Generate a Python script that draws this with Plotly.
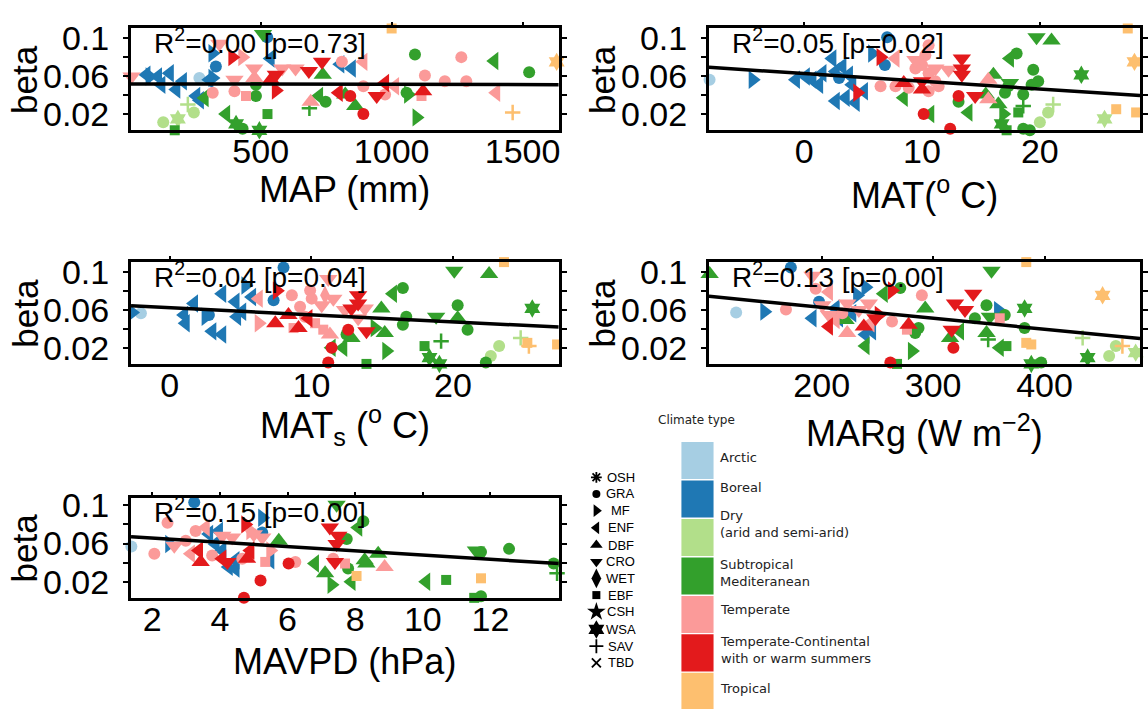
import plotly.graph_objects as go

W, H = 1148, 709

# ---- climate colours and vegetation-type symbols ----
CLIMATES = ["Arctic", "Boreal", "Dry<br>(arid and semi-arid)", "Subtropical<br>Mediteranean",
            "Temperate", "Temperate-Continental<br>with or warm summers", "Tropical"]
CLIM_CODE = ["A", "B", "D", "S", "T", "C", "R"]
CLIM_COLOR = ["#A6CEE3", "#1F78B4", "#B2DF8A", "#33A02C", "#FB9A99", "#E31A1C", "#FDBF6F"]

PFTS = ["OSH", "GRA", "MF", "ENF", "DBF", "CRO", "WET", "EBF", "CSH", "WSA", "SAV", "TBD"]
PFT_SYMBOL = ["asterisk-open", "circle", "triangle-right", "triangle-left", "triangle-up",
              "triangle-down", "diamond-tall", "square", "star", "hexagram",
              "cross-thin-open", "x-thin-open"]
PFT_SIZE = [10, 12, 16, 16, 16, 16, 14, 10, 15, 14, 11, 10]

# ---- site values per predictor: (x, beta, climate, PFT) ----
map_pts = [
    (1000, 0.1102, "R", "EBF"), (509, 0.1045, "S", "CRO"), (525, 0.101, "B", "GRA"),
    (342, 0.094, "T", "CRO"), (316, 0.084, "B", "MF"), (392, 0.080, "C", "MF"),
    (430, 0.080, "T", "MF"), (538, 0.0786, "B", "ENF"), (329, 0.070, "B", "GRA"),
    (475, 0.068, "T", "CRO"), (582, 0.068, "T", "CRO"), (633, 0.068, "T", "CRO"),
    (684, 0.0655, "C", "CRO"), (734, 0.075, "C", "CRO"), (737, 0.0614, "S", "DBF"),
    (810, 0.075, "T", "GRA"), (804, 0.0724, "B", "ENF"), (848, 0.068, "B", "ENF"),
    (892, 0.075, "T", "ENF"), (1089, 0.0828, "S", "GRA"), (1266, 0.080, "T", "GRA"),
    (1392, 0.0758, "S", "ENF"), (1630, 0.075, "R", "WSA"), (1525, 0.064, "S", "GRA"),
    (1127, 0.0607, "T", "GRA"), (1203, 0.0545, "T", "GRA"), (1285, 0.0545, "T", "GRA"),
    (1399, 0.0424, "T", "ENF"), (1462, 0.0217, "R", "SAV"), (1095, 0.0165, "S", "MF"),
    (1120, 0.044, "C", "DBF"), (1057, 0.0424, "S", "GRA"), (1063, 0.0407, "S", "MF"),
    (1114, 0.039, "T", "EBF"), (1013, 0.0493, "T", "ENF"), (975, 0.0527, "C", "ENF"),
    (943, 0.039, "C", "CRO"), (975, 0.0407, "T", "GRA"), (892, 0.0493, "T", "GRA"),
    (892, 0.020, "C", "GRA"), (861, 0.0286, "S", "DBF"), (823, 0.0407, "S", "DBF"),
    (842, 0.039, "C", "GRA"), (798, 0.0424, "C", "ENF"), (723, 0.039, "S", "ENF"),
    (748, 0.033, "S", "GRA"), (691, 0.033, "T", "DBF"), (686, 0.026, "S", "SAV"),
    (558, 0.0448, "C", "MF"), (539, 0.0562, "C", "DBF"), (558, 0.0614, "C", "CRO"),
    (482, 0.051, "S", "GRA"), (482, 0.039, "S", "GRA"), (526, 0.020, "S", "EBF"),
    (476, 0.058, "T", "DBF"), (400, 0.0562, "T", "CRO"), (400, 0.0441, "T", "GRA"),
    (444, 0.039, "T", "EBF"), (368, 0.020, "S", "ENF"), (431, 0.0044, "S", "GRA"),
    (406, 0.0096, "S", "WSA"), (495, 0.0029, "S", "WSA"), (172, 0.0029, "S", "EBF"),
    (128, 0.0113, "D", "GRA"), (184, 0.0148, "D", "WSA"), (245, 0.0217, "D", "GRA"),
    (222, 0.030, "D", "SAV"), (286, 0.037, "S", "ENF"), (254, 0.039, "B", "ENF"),
    (268, 0.0345, "B", "ENF"), (317, 0.0424, "T", "GRA"), (178, 0.0458, "B", "ENF"),
    (121, 0.051, "B", "ENF"), (203, 0.0545, "B", "ENF"), (153, 0.063, "B", "ENF"),
    (108, 0.0596, "B", "ENF"), (64, 0.0614, "B", "ENF"), (76, 0.0596, "B", "MF"),
    (7, 0.0596, "T", "CRO"), (304, 0.0562, "B", "ENF"), (266, 0.058, "A", "GRA"),
    (316, 0.058, "B", "MF"),
]

mat_pts = [
    (-8.03, 0.0562, "A", "GRA"), (-4.37, 0.0562, "B", "MF"), (5.77, 0.0838, "B", "MF"),
    (7.04, 0.101, "B", "GRA"), (2.39, 0.0786, "B", "ENF"), (3.24, 0.070, "B", "ENF"),
    (2.68, 0.0648, "B", "ENF"), (1.55, 0.0631, "B", "ENF"), (0.14, 0.0596, "B", "ENF"),
    (0.70, 0.0562, "B", "ENF"), (-0.70, 0.0562, "B", "ENF"), (1.27, 0.051, "B", "ENF"),
    (2.96, 0.058, "B", "GRA"), (3.80, 0.0614, "B", "ENF"), (4.08, 0.051, "B", "ENF"),
    (5.07, 0.0441, "B", "ENF"), (2.68, 0.0338, "B", "ENF"), (3.52, 0.0372, "B", "ENF"),
    (4.37, 0.032, "B", "ENF"), (6.85, 0.0717, "B", "GRA"), (6.48, 0.080, "C", "MF"),
    (7.75, 0.0786, "T", "ENF"), (4.51, 0.0424, "C", "MF"), (6.48, 0.0493, "T", "GRA"),
    (10.56, 0.0924, "T", "GRA"), (10.28, 0.082, "T", "GRA"), (10.0, 0.0717, "T", "GRA"),
    (9.44, 0.068, "T", "GRA"), (10.56, 0.0631, "T", "GRA"), (11.13, 0.0545, "T", "GRA"),
    (7.75, 0.0493, "T", "GRA"), (8.87, 0.0476, "T", "GRA"), (10.56, 0.0441, "T", "GRA"),
    (11.41, 0.0493, "T", "GRA"), (12.25, 0.0666, "T", "CRO"), (11.13, 0.068, "T", "CRO"),
    (9.44, 0.077, "T", "CRO"), (8.45, 0.0527, "C", "DBF"), (10.0, 0.0458, "C", "DBF"),
    (10.0, 0.0545, "C", "CRO"), (13.38, 0.0786, "C", "CRO"), (13.38, 0.068, "C", "CRO"),
    (13.38, 0.0614, "C", "CRO"), (13.1, 0.039, "C", "GRA"), (13.1, 0.033, "S", "GRA"),
    (10.14, 0.020, "C", "GRA"), (10.7, 0.020, "S", "ENF"), (12.39, 0.0044, "C", "GRA"),
    (14.51, 0.039, "C", "CRO"), (15.63, 0.0562, "T", "DBF"), (15.63, 0.0355, "T", "DBF"),
    (15.41, 0.0407, "S", "DBF"), (16.06, 0.0614, "S", "DBF"), (8.45, 0.0372, "S", "ENF"),
    (13.94, 0.0217, "S", "ENF"), (17.46, 0.0786, "S", "ENF"), (18.03, 0.0838, "S", "GRA"),
    (19.72, 0.101, "S", "CRO"), (20.99, 0.0976, "S", "DBF"), (23.52, 0.0614, "S", "WSA"),
    (27.46, 0.1102, "R", "EBF"), (28.03, 0.075, "R", "WSA"), (26.48, 0.0251, "R", "EBF"),
    (28.17, 0.0217, "R", "EBF"), (25.49, 0.0148, "D", "WSA"), (20.0, 0.0113, "D", "GRA"),
    (20.7, 0.0217, "D", "GRA"), (21.13, 0.030, "D", "SAV"), (19.44, 0.0666, "S", "GRA"),
    (19.86, 0.0545, "S", "GRA"), (19.3, 0.051, "S", "GRA"), (18.59, 0.0407, "S", "GRA"),
    (17.04, 0.0424, "S", "GRA"), (17.32, 0.0493, "S", "GRA"), (18.59, 0.0044, "S", "GRA"),
    (19.15, 0.0029, "S", "GRA"), (17.46, 0.0527, "S", "CRO"), (16.48, 0.0303, "S", "DBF"),
    (16.9, 0.020, "S", "MF"), (18.17, 0.0217, "S", "EBF"), (18.59, 0.0286, "S", "SAV"),
    (16.76, 0.0096, "S", "WSA"), (17.18, 0.0029, "S", "EBF"),
]

mats_pts = [
    (-2.67, 0.0572, "B", "MF"), (-2.04, 0.0562, "A", "GRA"), (1.12, 0.0458, "B", "ENF"),
    (1.71, 0.0666, "B", "ENF"), (1.01, 0.0545, "B", "ENF"), (3.0, 0.0372, "B", "ENF"),
    (3.70, 0.0338, "B", "ENF"), (3.70, 0.0769, "B", "ENF"), (4.64, 0.0683, "B", "ENF"),
    (5.81, 0.0734, "B", "ENF"), (5.11, 0.0579, "B", "ENF"), (4.75, 0.0527, "B", "ENF"),
    (5.34, 0.0855, "B", "MF"), (2.53, 0.0527, "B", "MF"), (2.76, 0.0545, "B", "GRA"),
    (7.33, 0.070, "B", "GRA"), (8.03, 0.1045, "B", "GRA"), (6.28, 0.0458, "T", "MF"),
    (6.28, 0.0717, "T", "ENF"), (8.62, 0.0752, "T", "GRA"), (9.2, 0.0631, "T", "GRA"),
    (9.91, 0.0803, "T", "GRA"), (10.02, 0.0717, "T", "GRA"), (9.55, 0.0527, "T", "GRA"),
    (11.19, 0.0924, "T", "CRO"), (10.73, 0.0648, "T", "CRO"), (10.96, 0.0752, "T", "WET"),
    (11.55, 0.0717, "T", "CRO"), (12.37, 0.0596, "T", "CRO"), (13.77, 0.0614, "T", "CRO"),
    (13.3, 0.051, "T", "CRO"), (10.84, 0.039, "T", "EBF"), (8.74, 0.0407, "T", "EBF"),
    (10.26, 0.0458, "T", "EBF"), (11.31, 0.0338, "T", "DBF"), (7.56, 0.080, "C", "MF"),
    (7.45, 0.0458, "C", "DBF"), (8.38, 0.0545, "C", "DBF"), (9.09, 0.0407, "C", "DBF"),
    (9.79, 0.051, "C", "ENF"), (12.6, 0.039, "C", "GRA"), (11.19, 0.0044, "C", "GRA"),
    (11.43, 0.020, "C", "GRA"), (13.3, 0.0752, "C", "CRO"), (13.3, 0.0666, "C", "CRO"),
    (13.89, 0.0372, "C", "CRO"), (12.83, 0.0614, "C", "CRO"), (15.76, 0.0769, "S", "ENF"),
    (16.46, 0.0828, "S", "GRA"), (14.94, 0.0614, "S", "DBF"), (14.47, 0.0407, "S", "MF"),
    (15.18, 0.0355, "S", "DBF"), (11.43, 0.020, "S", "ENF"), (12.25, 0.020, "S", "ENF"),
    (12.83, 0.0303, "S", "DBF"), (12.48, 0.0338, "S", "GRA"), (15.29, 0.0165, "S", "MF"),
    (13.89, 0.0029, "S", "EBF"), (16.7, 0.0527, "S", "GRA"), (16.46, 0.0441, "S", "GRA"),
    (20.33, 0.0648, "S", "GRA"), (21.03, 0.039, "S", "GRA"), (22.32, 0.0044, "S", "GRA"),
    (20.09, 0.101, "S", "CRO"), (22.55, 0.0976, "S", "DBF"), (18.81, 0.0527, "S", "CRO"),
    (20.33, 0.051, "S", "DBF"), (17.99, 0.0217, "S", "EBF"), (19.16, 0.0269, "S", "SAV"),
    (18.34, 0.0096, "S", "WSA"), (19.04, 0.0029, "S", "WSA"), (25.6, 0.0614, "S", "WSA"),
    (23.26, 0.0217, "D", "GRA"), (22.67, 0.0113, "D", "GRA"), (24.78, 0.0303, "D", "SAV"),
    (23.6, 0.1102, "R", "EBF"), (25.25, 0.0251, "R", "EBF"), (27.35, 0.0234, "R", "EBF"),
    (25.36, 0.0217, "R", "SAV"),
]

marg_pts = [
    (99.4, 0.0976, "S", "DBF"), (172.3, 0.1045, "B", "GRA"), (123.2, 0.0572, "A", "GRA"),
    (148.5, 0.058, "B", "MF"), (167.9, 0.0603, "T", "GRA"), (194.6, 0.082, "T", "GRA"),
    (191.7, 0.0959, "T", "CRO"), (206.5, 0.0786, "T", "ENF"), (197.6, 0.0683, "B", "GRA"),
    (239.3, 0.0838, "B", "MF"), (231.8, 0.0752, "B", "MF"), (263.1, 0.0803, "C", "MF"),
    (255.7, 0.0769, "S", "ENF"), (270.5, 0.0828, "S", "GRA"), (289.9, 0.0752, "T", "GRA"),
    (292.9, 0.0614, "S", "DBF"), (336.0, 0.0769, "C", "CRO"), (319.6, 0.0666, "C", "CRO"),
    (328.6, 0.0596, "C", "CRO"), (352.4, 0.101, "S", "CRO"), (383.6, 0.1102, "R", "EBF"),
    (452.1, 0.0752, "R", "WSA"), (347.9, 0.0648, "S", "GRA"), (337.5, 0.051, "S", "GRA"),
    (350.9, 0.0527, "S", "CRO"), (358.3, 0.0596, "B", "MF"), (359.8, 0.051, "T", "EBF"),
    (364.3, 0.0545, "S", "GRA"), (382.1, 0.0614, "S", "WSA"), (382.1, 0.0407, "S", "GRA"),
    (347.9, 0.0355, "S", "DBF"), (349.4, 0.0286, "S", "SAV"), (359.8, 0.020, "S", "ENF"),
    (365.8, 0.0217, "S", "EBF"), (324.1, 0.0372, "S", "ENF"), (316.7, 0.039, "C", "CRO"),
    (315.2, 0.0303, "S", "DBF"), (318.2, 0.020, "C", "GRA"), (383.6, 0.0251, "R", "EBF"),
    (388.1, 0.0234, "R", "EBF"), (388.1, 0.0029, "S", "WSA"), (397.0, 0.0044, "S", "GRA"),
    (438.7, 0.0096, "S", "WSA"), (434.2, 0.0303, "D", "SAV"), (464.0, 0.0217, "D", "GRA"),
    (458.0, 0.0113, "D", "GRA"), (481.8, 0.0148, "D", "WSA"), (469.9, 0.0217, "R", "SAV"),
    (281.0, 0.0165, "S", "MF"), (261.6, 0.0044, "C", "GRA"), (267.6, 0.0029, "S", "EBF"),
    (283.9, 0.0355, "S", "GRA"), (286.9, 0.0407, "S", "GRA"), (278.0, 0.0441, "C", "DBF"),
    (263.1, 0.0476, "T", "GRA"), (276.5, 0.039, "T", "EBF"), (239.3, 0.0217, "S", "ENF"),
    (206.5, 0.0424, "C", "ENF"), (222.9, 0.0355, "T", "DBF"), (221.4, 0.0493, "S", "DBF"),
    (237.8, 0.0424, "C", "DBF"), (239.3, 0.0338, "B", "ENF"), (222.9, 0.0666, "T", "CRO"),
    (242.3, 0.0666, "T", "CRO"), (233.3, 0.0596, "T", "CRO"), (191.7, 0.051, "B", "ENF"),
    (215.5, 0.051, "B", "ENF"), (206.5, 0.0545, "T", "CRO"), (251.2, 0.0545, "C", "MF"),
    (248.2, 0.051, "C", "CRO"), (243.8, 0.0458, "T", "ENF"), (245.2, 0.0372, "B", "ENF"),
    (212.5, 0.0614, "B", "ENF"), (200.6, 0.0648, "T", "CRO"), (227.4, 0.0562, "B", "ENF"),
    (218.5, 0.0562, "T", "GRA"), (212.5, 0.0493, "T", "ENF"),
]

mavpd_pts = [
    (1.38, 0.0568, "A", "GRA"), (3.24, 0.1034, "B", "GRA"), (2.45, 0.0818, "T", "GRA"),
    (2.06, 0.0492, "T", "GRA"), (2.99, 0.063, "T", "GRA"), (2.65, 0.0578, "T", "CRO"),
    (2.5, 0.0595, "B", "MF"), (3.14, 0.0492, "T", "ENF"), (3.43, 0.0407, "C", "DBF"),
    (3.38, 0.0527, "C", "ENF"), (3.28, 0.0732, "T", "GRA"), (3.58, 0.0767, "T", "ENF"),
    (3.68, 0.070, "B", "ENF"), (3.97, 0.0732, "B", "ENF"), (3.87, 0.0595, "B", "ENF"),
    (4.07, 0.0527, "B", "ENF"), (4.26, 0.0355, "B", "ENF"), (4.46, 0.0338, "B", "ENF"),
    (4.46, 0.0424, "B", "ENF"), (4.07, 0.0681, "T", "CRO"), (4.36, 0.0664, "T", "CRO"),
    (4.07, 0.0441, "C", "ENF"), (4.22, 0.0407, "C", "CRO"), (3.77, 0.0475, "T", "GRA"),
    (5.0, 0.0698, "T", "CRO"), (4.75, 0.0801, "C", "MF"), (4.90, 0.0732, "T", "MF"),
    (4.80, 0.0441, "C", "DBF"), (4.90, 0.0527, "C", "ENF"), (4.66, 0.0441, "T", "GRA"),
    (4.71, 0.0030, "C", "GRA"), (5.2, 0.0211, "C", "GRA"), (5.25, 0.087, "B", "MF"),
    (5.25, 0.0715, "B", "GRA"), (5.25, 0.0664, "T", "CRO"), (5.49, 0.0527, "T", "MF"),
    (5.49, 0.0424, "B", "ENF"), (5.34, 0.0407, "T", "EBF"), (6.03, 0.039, "C", "GRA"),
    (6.23, 0.0407, "T", "GRA"), (5.74, 0.063, "S", "DBF"), (7.45, 0.1007, "S", "CRO"),
    (8.24, 0.0835, "S", "GRA"), (8.09, 0.0767, "S", "ENF"), (7.75, 0.0647, "S", "GRA"),
    (6.81, 0.039, "S", "ENF"), (7.11, 0.0287, "S", "DBF"), (7.30, 0.0167, "S", "MF"),
    (7.89, 0.020, "S", "ENF"), (8.33, 0.039, "S", "DBF"), (8.68, 0.0492, "S", "DBF"),
    (7.79, 0.0338, "S", "GRA"), (10.1, 0.020, "S", "ENF"), (10.69, 0.0218, "S", "EBF"),
    (11.52, 0.0030, "S", "EBF"), (11.72, 0.0046, "S", "GRA"), (11.57, 0.0527, "S", "CRO"),
    (11.72, 0.051, "S", "GRA"), (12.55, 0.0544, "S", "GRA"), (13.87, 0.039, "S", "GRA"),
    (13.97, 0.0287, "S", "SAV"), (7.25, 0.0767, "C", "CRO"), (7.5, 0.0681, "C", "CRO"),
    (7.45, 0.0595, "C", "CRO"), (7.40, 0.0407, "C", "CRO"), (7.35, 0.0441, "T", "GRA"),
    (7.70, 0.039, "T", "EBF"), (8.87, 0.0355, "T", "DBF"), (8.04, 0.0259, "R", "EBF"),
    (11.72, 0.0235, "R", "EBF"), (8.28, 0.0424, "S", "DBF"),
]

# ---- fitted linear models beta ~ x: (intercept, slope, R2, p) ----
FITS = [
    (0.0518, -4.9e-7, "0.00", "0.73"),
    (0.0627, -0.000812, "0.05", "0.02"),
    (0.0621, -0.000741, "0.04", "0.04"),
    (0.0855, -0.000115, "0.13", "0.00"),
    (0.0702, -0.00223, "0.15", "0.00"),
]

XTICKS = [[500, 1000, 1500], [0, 10, 20], [0, 10, 20], [200, 300, 400], [2, 4, 6, 8, 10, 12]]
YTICKS = [0.02, 0.04, 0.06, 0.08, 0.1]
YTICKTEXT = ["0.02", "", "0.06", "", "0.1"]
XTITLES = ["MAP (mm)", "MAT(<sup>o</sup> C)", "MAT<sub>s</sub> (<sup>o</sup> C)",
           "MARg (W m<sup>\u22122</sup>)", "MAVPD (hPa)"]

# ---- panel geometry (pixels) and axis ranges ----
PANEL_BOX = [(131.7, 561.7, 17.7, 121.7), (712.7, 1146, 17.7, 121.7),
             (131.7, 561.7, 255.7, 359.7), (712.7, 1146, 255.7, 359.7),
             (131.7, 561.7, 495.7, 598.0)]
XRANGES = [(5, 1638), (-8.08, 28.5), (-2.74, 27.47), (98.8, 485.7), (1.37, 14.02)]
YRANGES = [(0.0027, 0.1103)] * 4 + [(0.0028, 0.1082)]
XTITLE_Y = [182, 185, 422, 428, 663]

PANELS = [map_pts, mat_pts, mats_pts, marg_pts, mavpd_pts]

FONT = "Liberation Sans, Arial, sans-serif"
LEG_FONT = "DejaVu Sans, Verdana, sans-serif"


def px_x(v):
    return v / W


def px_y(v):
    return 1 - v / H


fig = go.Figure()
annotations = []
layout_axes = {}

for i, pts in enumerate(PANELS):
    k = i + 1
    kt = i + 6
    l, r, t, b = PANEL_BOX[i]
    xr, yr = XRANGES[i], YRANGES[i]
    xs = "" if k == 1 else str(k)

    layout_axes[f"xaxis{xs}"] = dict(
        domain=[px_x(l), px_x(r)], anchor=f"y{xs}", range=list(xr),
        tickvals=XTICKS[i], ticks="", ticklen=0, showline=True, linewidth=3,
        linecolor="black", mirror=True, showgrid=False, zeroline=False,
        ticklabelstandoff=-11,
        tickfont=dict(family=FONT, size=34, color="black"),
    )
    layout_axes[f"xaxis{kt}"] = dict(
        domain=[px_x(l), px_x(r)], overlaying=f"x{xs}", side="top", anchor=f"y{xs}",
        range=list(xr), tickvals=XTICKS[i], ticks="outside", ticklen=5, tickwidth=2,
        tickcolor="black", showticklabels=False, showline=False, showgrid=False,
        zeroline=False,
    )
    layout_axes[f"yaxis{xs}"] = dict(
        domain=[px_y(b), px_y(t)], anchor=f"x{xs}", range=list(yr),
        tickvals=YTICKS, ticktext=YTICKTEXT, ticks="outside", ticklen=5, tickwidth=2,
        tickcolor="black", showline=True, linewidth=3, linecolor="black",
        mirror="ticks", showgrid=False, zeroline=False, ticklabelstandoff=7,
        tickfont=dict(family=FONT, size=34, color="black"),
    )

    # points grouped by climate x PFT
    for cc, col in zip(CLIM_CODE, CLIM_COLOR):
        for pft, sym, sz in zip(PFTS, PFT_SYMBOL, PFT_SIZE):
            sel = [p for p in pts if p[2] == cc and p[3] == pft]
            if not sel:
                continue
            open_sym = sym.endswith("-open")
            fig.add_trace(go.Scatter(
                x=[p[0] for p in sel], y=[p[1] for p in sel], mode="markers",
                xaxis=f"x{xs}", yaxis=f"y{xs}", cliponaxis=False, showlegend=False,
                hoverinfo="skip",
                marker=dict(symbol=sym, size=sz, color=col,
                            line=dict(width=2.5 if open_sym else 0, color=col)),
            ))

    # regression line
    a, s_, r2, pv = FITS[i]
    fig.add_trace(go.Scatter(
        x=list(xr), y=[a + s_ * xr[0], a + s_ * xr[1]], mode="lines",
        xaxis=f"x{xs}", yaxis=f"y{xs}", line=dict(color="black", width=3.5),
        showlegend=False, hoverinfo="skip",
    ))
    # carrier for the top tick axis
    fig.add_trace(go.Scatter(
        x=[xr[0]], y=[yr[0]], mode="markers", xaxis=f"x{kt}", yaxis=f"y{xs}",
        marker=dict(opacity=0), showlegend=False, hoverinfo="skip",
    ))

    annotations.append(dict(
        text=f"R<sup>2</sup>=%s [p=%s]" % (r2, pv), xref="paper", yref="paper",
        x=px_x(l + 21), y=px_y(t + 13), xanchor="left", yanchor="middle",
        showarrow=False, font=dict(family=FONT, size=28, color="black"),
    ))
    annotations.append(dict(
        text=XTITLES[i], xref="paper", yref="paper", x=px_x((l + r) / 2),
        y=px_y(XTITLE_Y[i]), xanchor="center", yanchor="middle", showarrow=False,
        font=dict(family=FONT, size=36, color="black"),
    ))
    annotations.append(dict(
        text="beta", xref="paper", yref="paper", x=px_x(l - 107), y=px_y((t + b) / 2),
        xanchor="center", yanchor="middle", textangle=-90, showarrow=False,
        font=dict(family=FONT, size=35, color="black"),
    ))

# ---- vegetation-type key ----
layout_axes["xaxis11"] = dict(domain=[0, 1], range=[0, W], visible=False, anchor="y11")
layout_axes["yaxis11"] = dict(domain=[0, 1], range=[H, 0], visible=False, anchor="x11")
KEY_Y = [475, 492, 509, 526.5, 544, 561, 578, 595, 612, 630, 647, 664]
KEY_SIZE = [9, 8, 11, 11, 11, 11, 14, 8, 14, 14, 10, 9]
for pft, sym, ky, ks in zip(PFTS, PFT_SYMBOL, KEY_Y, KEY_SIZE):
    open_sym = sym.endswith("-open")
    fig.add_trace(go.Scatter(
        x=[599.5], y=[ky], mode="markers", xaxis="x11", yaxis="y11",
        showlegend=False, hoverinfo="skip", cliponaxis=False,
        marker=dict(symbol=sym, size=ks, color="black",
                    line=dict(width=1.8 if open_sym else 0, color="black")),
    ))
    annotations.append(dict(
        text=pft, xref="paper", yref="paper", x=px_x(624), y=px_y(ky),
        xanchor="center", yanchor="middle", showarrow=False,
        font=dict(family=FONT, size=13, color="black"),
    ))

# ---- climate colour key ----
shapes = []
annotations.append(dict(
    text="Climate type", xref="paper", yref="paper", x=px_x(700.5), y=px_y(416.5),
    xanchor="center", yanchor="middle", showarrow=False,
    font=dict(family=LEG_FONT, size=12, color="#222222"),
))
LABEL_Y = [455, 485, 523, 572, 610, 651, 690]
for j, (name, col) in enumerate(zip(CLIMATES, CLIM_COLOR)):
    top = 439 + j * 39.2
    shapes.append(dict(type="rect", xref="paper", yref="paper",
                       x0=px_x(685), x1=px_x(717.3), y0=px_y(top + 37.8), y1=px_y(top),
                       fillcolor=col, line=dict(width=0), layer="above"))
    annotations.append(dict(
        text=name, xref="paper", yref="paper", x=px_x(721.5), y=px_y(LABEL_Y[j]),
        xanchor="left", yanchor="middle", align="left", showarrow=False,
        font=dict(family=LEG_FONT, size=13, color="#222222"),
    ))

fig.update_layout(
    width=W, height=H, margin=dict(l=0, r=0, t=0, b=0),
    paper_bgcolor="white", plot_bgcolor="rgba(0,0,0,0)",
    showlegend=False, annotations=annotations, shapes=shapes, **layout_axes,
)

fig.write_html("out.html")
